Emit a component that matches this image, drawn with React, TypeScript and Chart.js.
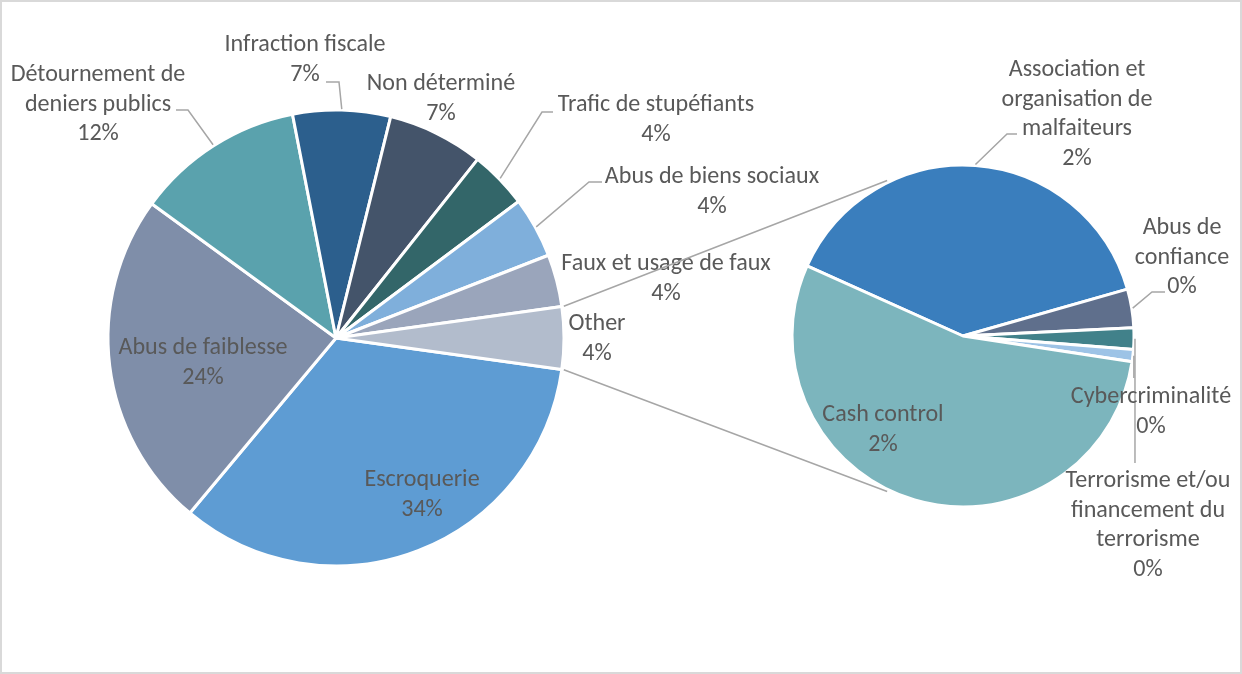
import React, { useEffect, useRef } from "react";
import { Chart, registerables } from "chart.js";

Chart.register(...registerables);

// ---- data -------------------------------------------------------------
const mainCategories = [
  "Escroquerie",
  "Abus de faiblesse",
  "Détournement de\ndeniers publics",
  "Infraction fiscale",
  "Non déterminé",
  "Trafic de stupéfiants",
  "Abus de biens sociaux",
  "Faux et usage de faux",
];
const mainValues = [33.8, 23.9, 11.9, 6.9, 6.8, 4.1, 4.3, 3.7];
const otherLabel = "Other";

const subCategories = [
  "Association et\norganisation de\nmalfaiteurs",
  "Abus de\nconfiance",
  "Terrorisme et/ou\nfinancement du\nterrorisme",
  "Cybercriminalité",
  "Cash control",
];
const subValues = [1.71, 0.16, 0.09, 0.05, 2.39];

const mainColors = [
  "#5E9CD3",
  "#7F8EA9",
  "#5AA2AD",
  "#2C5F8D",
  "#44546A",
  "#336669",
  "#7FAFDB",
  "#9AA5BB",
  "#B2BCCC",
];
const subColors = ["#3A7EBD", "#5F6F8C", "#41818A", "#9DC3E6", "#7CB5BD"];

// ---- layout -----------------------------------------------------------
const W = 1242;
const H = 674;
const MAIN_CX = 336;
const MAIN_CY = 338;
const MAIN_R = 228;
const SUB_CX = 963;
const SUB_CY = 336;
const SUB_R = 171;
const SUB_START_DEG = 204.2; // clockwise from 3 o'clock
const LINK_DEG = 64; // where the connector lines meet the small pie
const LINE_H = 29.7;
const TEXT_DY = 2;
const TEXT_COLOR = "#595959";
const LEADER_COLOR = "#A6A6A6";
const FONT_FAMILY = "Carlito, Calibri, Lato, sans-serif";

type Spot = { cx: number; cy: number; elbow?: [number, number][]; dropTo?: number };

// label placements for the large pie (same order as its slices, Other last)
const mainSpots: Spot[] = [
  { cx: 422, cy: 478 },
  { cx: 203, cy: 346 },
  { cx: 98, cy: 73, elbow: [[176, 110], [188, 110]] },
  { cx: 305, cy: 43, elbow: [[326, 82], [339, 82]] },
  { cx: 441, cy: 82 },
  { cx: 656, cy: 103, elbow: [[553, 112], [542, 112]] },
  { cx: 712, cy: 175, elbow: [[602, 182], [589, 182]] },
  { cx: 666, cy: 262 },
  { cx: 597, cy: 322 },
];

// label placements for the small pie
const subSpots: Spot[] = [
  { cx: 1077, cy: 68, elbow: [[1017, 134], [1007, 134]] },
  { cx: 1182, cy: 226, elbow: [[1165, 292], [1152, 292]] },
  { cx: 1148, cy: 479, dropTo: 463 },
  { cx: 1151, cy: 395, dropTo: 378 },
  { cx: 883, cy: 413 },
];

const otherValue = subValues.reduce((a, b) => a + b, 0);
const grandTotal = mainValues.reduce((a, b) => a + b, 0) + otherValue;
const pct = (v: number) => `${Math.round((v / grandTotal) * 100)}%`;

function fontSizeFor(ctx: CanvasRenderingContext2D) {
  ctx.font = `24px ${FONT_FAMILY}`;
  const w = ctx.measureText("Infraction fiscale").width;
  const size = (24 * 161) / w;
  return Math.max(18, Math.min(26, size));
}

function arcGeom(arc: any) {
  return arc.getProps(["x", "y", "startAngle", "endAngle", "outerRadius"], true);
}

function midPoint(arc: any, extra: number): [number, number] {
  const g = arcGeom(arc);
  const a = (g.startAngle + g.endAngle) / 2;
  return [g.x + Math.cos(a) * (g.outerRadius + extra), g.y + Math.sin(a) * (g.outerRadius + extra)];
}

function makeLabelPlugin(id: string, names: string[], values: number[], spots: Spot[]) {
  return {
    id,
    afterDatasetsDraw(chart: any) {
      const ctx: CanvasRenderingContext2D = chart.ctx;
      const arcs = chart.getDatasetMeta(0).data;
      ctx.save();
      // leader lines
      ctx.strokeStyle = LEADER_COLOR;
      ctx.lineWidth = 1.5;
      spots.forEach((s, i) => {
        if (!s.elbow && s.dropTo === undefined) return;
        const p = midPoint(arcs[i], 1);
        ctx.beginPath();
        if (s.elbow) {
          ctx.moveTo(s.elbow[0][0], s.elbow[0][1]);
          for (let k = 1; k < s.elbow.length; k++) ctx.lineTo(s.elbow[k][0], s.elbow[k][1]);
          ctx.lineTo(p[0], p[1]);
        } else {
          ctx.moveTo(p[0], p[1]);
          ctx.lineTo(p[0], s.dropTo as number);
        }
        ctx.stroke();
      });
      // texts
      const size = fontSizeFor(ctx);
      ctx.font = `${size}px ${FONT_FAMILY}`;
      ctx.fillStyle = TEXT_COLOR;
      ctx.textAlign = "center";
      ctx.textBaseline = "middle";
      spots.forEach((s, i) => {
        const lines = [...names[i].split("\n"), pct(values[i])];
        lines.forEach((t, k) => ctx.fillText(t, s.cx, s.cy + TEXT_DY + k * LINE_H));
      });
      ctx.restore();
    },
  };
}

function makeConnectorPlugin(getMain: () => any) {
  return {
    id: "pieConnectors",
    afterDatasetsDraw(chart: any) {
      const main = getMain();
      if (!main) return;
      const mArcs = main.getDatasetMeta(0).data;
      const other = arcGeom(mArcs[mArcs.length - 1]);
      const sub = arcGeom(chart.getDatasetMeta(0).data[0]);
      const r0 = other.outerRadius + 2;
      const r1 = sub.outerRadius + 2;
      const up = ((180 + LINK_DEG) * Math.PI) / 180;
      const down = ((180 - LINK_DEG) * Math.PI) / 180;
      const ctx: CanvasRenderingContext2D = chart.ctx;
      ctx.save();
      ctx.strokeStyle = LEADER_COLOR;
      ctx.lineWidth = 1.5;
      ctx.beginPath();
      ctx.moveTo(other.x + Math.cos(other.startAngle) * r0, other.y + Math.sin(other.startAngle) * r0);
      ctx.lineTo(sub.x + Math.cos(up) * r1, sub.y + Math.sin(up) * r1);
      ctx.moveTo(other.x + Math.cos(other.endAngle) * r0, other.y + Math.sin(other.endAngle) * r0);
      ctx.lineTo(sub.x + Math.cos(down) * r1, sub.y + Math.sin(down) * r1);
      ctx.stroke();
      ctx.restore();
    },
  };
}

function paddingFor(cx: number, cy: number, half: number) {
  return { left: cx - half, right: W - cx - half, top: cy - half, bottom: H - cy - half };
}

export default function App() {
  const mainRef = useRef<HTMLCanvasElement>(null);
  const subRef = useRef<HTMLCanvasElement>(null);

  useEffect(() => {
    const allMainValues = [...mainValues, otherValue];
    const otherSpanDeg = (otherValue / grandTotal) * 360;

    const main = new Chart(mainRef.current as HTMLCanvasElement, {
      type: "pie",
      data: {
        labels: [...mainCategories, otherLabel],
        datasets: [
          {
            data: allMainValues,
            backgroundColor: mainColors,
            borderColor: "#FFFFFF",
            borderWidth: 3,
          },
        ],
      },
      options: {
        animation: false,
        responsive: false,
        devicePixelRatio: 1,
        events: [],
        rotation: 90 + otherSpanDeg / 2,
        radius: MAIN_R,
        layout: { padding: paddingFor(MAIN_CX, MAIN_CY, 240) },
        plugins: { legend: { display: false }, tooltip: { enabled: false } },
      } as any,
      plugins: [makeLabelPlugin("mainLabels", [...mainCategories, otherLabel], allMainValues, mainSpots)],
    });

    const sub = new Chart(subRef.current as HTMLCanvasElement, {
      type: "pie",
      data: {
        labels: subCategories,
        datasets: [
          {
            data: subValues,
            backgroundColor: subColors,
            borderColor: "#FFFFFF",
            borderWidth: 3,
          },
        ],
      },
      options: {
        animation: false,
        responsive: false,
        devicePixelRatio: 1,
        events: [],
        rotation: 90 + SUB_START_DEG,
        radius: SUB_R,
        layout: { padding: paddingFor(SUB_CX, SUB_CY, 200) },
        plugins: { legend: { display: false }, tooltip: { enabled: false } },
      } as any,
      plugins: [
        makeConnectorPlugin(() => main),
        makeLabelPlugin("subLabels", subCategories, subValues, subSpots),
      ],
    });

    return () => {
      sub.destroy();
      main.destroy();
    };
  }, []);

  return (
    <div style={{ position: "fixed", left: 0, top: 0, width: W, height: H, background: "#FFFFFF" }}>
      <canvas ref={mainRef} width={W} height={H} style={{ position: "absolute", left: 0, top: 0 }} />
      <canvas ref={subRef} width={W} height={H} style={{ position: "absolute", left: 0, top: 0 }} />
      <div
        style={{
          position: "absolute",
          left: 0,
          top: 0,
          width: W,
          height: H,
          border: "2px solid #D9D9D9",
          boxSizing: "border-box",
          pointerEvents: "none",
        }}
      />
    </div>
  );
}
